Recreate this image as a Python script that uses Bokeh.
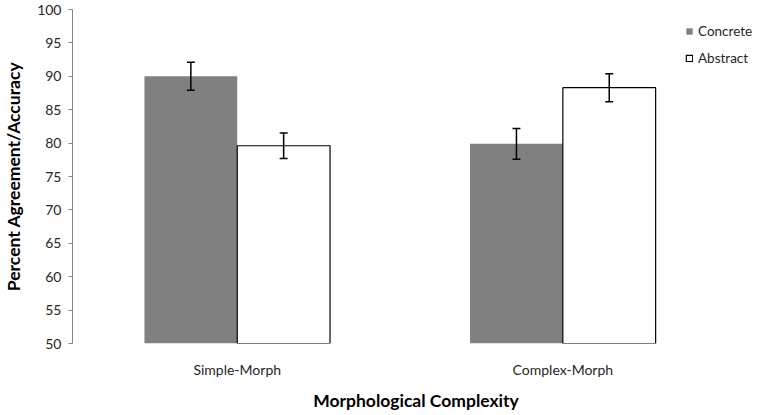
from bokeh.plotting import figure
from bokeh.models import Range1d, FixedTicker, Whisker, TeeHead, ColumnDataSource, Legend, LegendItem
from bokeh.embed import file_html
from bokeh.resources import INLINE

categories = ["Simple-Morph", "Complex-Morph"]
concrete = [90.0, 79.9]
concrete_err = [2.1, 2.3]
abstract = [79.6, 88.3]
abstract_err = [1.9, 2.1]
y_ticks = [50, 55, 60, 65, 70, 75, 80, 85, 90, 95, 100]

FONT = "Lato"
centers = [i + 0.5 for i in range(len(categories))]
bw = 0.285

p = figure(width=759, height=415, output_backend="svg", toolbar_location=None,
           x_range=Range1d(-0.006, 2.104), y_range=Range1d(50, 100),
           min_border_left=71, min_border_right=0, min_border_top=9, min_border_bottom=72)
p.outline_line_color = None
p.grid.visible = False

src_c = ColumnDataSource(dict(x=[c - bw / 2 for c in centers], top=concrete,
                              up=[v + e for v, e in zip(concrete, concrete_err)],
                              lo=[v - e for v, e in zip(concrete, concrete_err)]))
src_a = ColumnDataSource(dict(x=[c + bw / 2 for c in centers], top=abstract,
                              up=[v + e for v, e in zip(abstract, abstract_err)],
                              lo=[v - e for v, e in zip(abstract, abstract_err)]))

rc = p.vbar(x="x", top="top", bottom=50, width=bw, source=src_c,
            fill_color="#808080", line_color=None)
ra = p.vbar(x="x", top="top", bottom=50, width=bw, source=src_a,
            fill_color="white", line_color="black", line_width=1.2)

for src in (src_c, src_a):
    w = Whisker(base="x", upper="up", lower="lo", source=src,
                line_color="black", line_width=1.5, level="overlay",
                upper_head=TeeHead(size=8, line_width=1.5, line_color="black"),
                lower_head=TeeHead(size=8, line_width=1.5, line_color="black"))
    p.add_layout(w)

legend = Legend(items=[LegendItem(label="Concrete", renderers=[rc]),
                       LegendItem(label="Abstract", renderers=[ra])],
                location=(613, 277), orientation="vertical",
                glyph_width=8, glyph_height=8, label_height=14, spacing=11,
                padding=0, margin=0, label_standoff=5,
                border_line_color=None, background_fill_alpha=0,
                label_text_font=FONT, label_text_font_size="13.5px", label_text_color="#262626")
p.add_layout(legend)

# y axis
ya = p.yaxis[0]
ya.ticker = FixedTicker(ticks=y_ticks)
ya.axis_line_color = "#868686"
ya.major_tick_line_color = "#868686"
ya.major_tick_out = 4
ya.major_tick_in = 0
ya.minor_tick_line_color = None
ya.major_label_standoff = 7
ya.major_label_text_font = FONT
ya.major_label_text_font_size = "14px"
ya.major_label_text_color = "#262626"
ya.axis_label = "Percent Agreement/Accuracy"
ya.axis_label_text_font = FONT
ya.axis_label_text_font_style = "bold"
ya.axis_label_text_font_size = "17.5px"
ya.axis_label_text_color = "black"
ya.axis_label_standoff = 10

# x axis
xa = p.xaxis[0]
xa.ticker = FixedTicker(ticks=centers)
xa.major_label_overrides = {c: n for c, n in zip(centers, categories)}
xa.axis_line_color = None
xa.major_tick_line_color = None
xa.minor_tick_line_color = None
xa.major_tick_out = 0
xa.major_label_standoff = 17
xa.major_label_text_font = FONT
xa.major_label_text_font_size = "14px"
xa.major_label_text_color = "#262626"
xa.axis_label = "Morphological Complexity"
xa.axis_label_text_font = FONT
xa.axis_label_text_font_style = "bold"
xa.axis_label_text_font_size = "17.5px"
xa.axis_label_text_color = "black"
xa.axis_label_standoff = 9

open("out.html", "w").write(file_html(p, INLINE))
